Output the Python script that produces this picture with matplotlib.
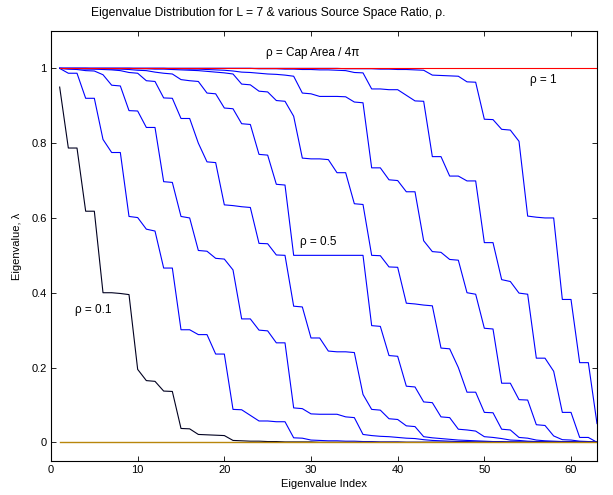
import matplotlib
matplotlib.use("Agg")
import matplotlib.pyplot as plt
import numpy as np

plt.rcParams['font.family'] = ['Liberation Sans', 'DejaVu Sans']

# eigenvalue index 1..63
index = np.arange(1, 64)

rho_00 = [0.0] * 63
rho_01 = [0.950, 0.787, 0.787, 0.618, 0.618, 0.400, 0.400, 0.398, 0.395, 0.195,
          0.165, 0.163, 0.137, 0.136, 0.037, 0.036, 0.021, 0.020, 0.019, 0.018,
          0.005, 0.004, 0.003, 0.003, 0.002, 0.002, 0.001, 0.001, 0.001, 0.001] + [0.0] * 33
rho_02 = [1.000, 0.987, 0.987, 0.920, 0.920, 0.810, 0.775, 0.775, 0.604, 0.601,
          0.570, 0.565, 0.466, 0.466, 0.301, 0.301, 0.288, 0.288, 0.236, 0.236,
          0.088, 0.087, 0.072, 0.057, 0.057, 0.055, 0.055, 0.012, 0.011, 0.006,
          0.005, 0.004, 0.004, 0.003, 0.003, 0.002, 0.002, 0.001, 0.001, 0.001] + [0.0] * 23
rho_03 = [1.000, 0.998, 0.997, 0.994, 0.993, 0.983, 0.955, 0.953, 0.887, 0.886,
          0.842, 0.842, 0.697, 0.695, 0.604, 0.600, 0.513, 0.511, 0.492, 0.490,
          0.461, 0.330, 0.330, 0.300, 0.298, 0.266, 0.266, 0.092, 0.090, 0.076,
          0.075, 0.075, 0.075, 0.068, 0.066, 0.021, 0.018, 0.016, 0.015, 0.013,
          0.011, 0.010, 0.007, 0.005, 0.004, 0.003, 0.002, 0.002, 0.001, 0.001] + [0.0] * 13
rho_04 = [1.000, 0.999, 0.999, 0.998, 0.998, 0.997, 0.996, 0.994, 0.989, 0.987,
          0.967, 0.965, 0.921, 0.920, 0.866, 0.866, 0.800, 0.750, 0.748, 0.635,
          0.633, 0.630, 0.628, 0.532, 0.531, 0.501, 0.500, 0.364, 0.362, 0.279,
          0.279, 0.244, 0.242, 0.242, 0.240, 0.128, 0.088, 0.086, 0.063, 0.061,
          0.044, 0.042, 0.015, 0.012, 0.010, 0.008, 0.006, 0.005, 0.004, 0.003,
          0.002, 0.002, 0.001, 0.001] + [0.0] * 9
rho_05 = [1.000, 1.000, 1.000, 1.000, 0.999, 0.999, 0.998, 0.998, 0.997, 0.995,
          0.994, 0.990, 0.987, 0.985, 0.970, 0.967, 0.965, 0.934, 0.932, 0.894,
          0.892, 0.852, 0.850, 0.770, 0.768, 0.690, 0.688, 0.500, 0.500, 0.500,
          0.500, 0.500, 0.500, 0.500, 0.500, 0.500, 0.312, 0.310, 0.232, 0.230,
          0.150, 0.148, 0.108, 0.106, 0.068, 0.066, 0.035, 0.033, 0.030, 0.015,
          0.013, 0.010, 0.006, 0.005, 0.003, 0.002, 0.002, 0.001, 0.001, 0.000,
          0.000, 0.000, 0.000]
rho_06 = [1.000, 1.000, 1.000, 1.000, 1.000, 1.000, 1.000, 1.000, 1.000, 0.999,
          0.999, 0.998, 0.998, 0.997, 0.996, 0.995, 0.994, 0.992, 0.990, 0.988,
          0.985, 0.958, 0.956, 0.939, 0.937, 0.914, 0.912, 0.872, 0.760, 0.758,
          0.758, 0.756, 0.721, 0.721, 0.638, 0.636, 0.500, 0.499, 0.469, 0.468,
          0.372, 0.370, 0.367, 0.365, 0.252, 0.250, 0.200, 0.134, 0.134, 0.080,
          0.079, 0.035, 0.033, 0.013, 0.011, 0.006, 0.004, 0.003, 0.002, 0.002,
          0.001, 0.001, 0.000]
rho_07 = [1.000] * 13 + [
          0.999, 0.999, 0.998, 0.998, 0.997, 0.996, 0.995,
          0.993, 0.990, 0.989, 0.987, 0.985, 0.984, 0.982, 0.979, 0.934, 0.932,
          0.925, 0.925, 0.925, 0.924, 0.910, 0.908, 0.734, 0.734, 0.702, 0.700,
          0.670, 0.670, 0.539, 0.510, 0.508, 0.489, 0.487, 0.400, 0.396, 0.305,
          0.303, 0.158, 0.158, 0.114, 0.113, 0.047, 0.045, 0.017, 0.007, 0.006,
          0.003, 0.002, 0.000]
rho_08 = [1.000] * 23 + [
          0.999, 0.999, 0.999, 0.998, 0.998, 0.997, 0.997,
          0.996, 0.996, 0.995, 0.994, 0.989, 0.988, 0.945, 0.945, 0.943, 0.943,
          0.928, 0.913, 0.912, 0.764, 0.764, 0.712, 0.712, 0.699, 0.699, 0.534,
          0.534, 0.435, 0.430, 0.399, 0.396, 0.225, 0.225, 0.190, 0.080, 0.080,
          0.013, 0.013, 0.000]
rho_09 = [1.000] * 33 + [
          0.999, 0.999, 0.999, 0.999, 0.998, 0.998, 0.997,
          0.997, 0.996, 0.995, 0.982, 0.981, 0.980, 0.979, 0.964, 0.963, 0.864,
          0.863, 0.837, 0.835, 0.805, 0.605, 0.602, 0.600, 0.600, 0.382, 0.382,
          0.213, 0.213, 0.050]
rho_10 = [1.0] * 63

blue_curves = [rho_02, rho_03, rho_04, rho_05, rho_06, rho_07, rho_08, rho_09]

fig = plt.figure(figsize=(6.13, 4.95), dpi=100)
ax = fig.add_axes([0.0832, 0.0687, 0.8907, 0.8687])

for curve in blue_curves:
    ax.plot(index, curve, color='#0000ff', lw=0.8)
ax.plot(index, rho_01, color='#000020', lw=0.8)
ax.plot(index, rho_10, color='#ff0000', lw=0.8)
ax.plot(index, rho_00, color='#b8860b', lw=1.0)

ax.set_xlim(0, 63)
ax.set_ylim(-0.05, 1.1)
ax.set_xticks([0, 10, 20, 30, 40, 50, 60])
ax.set_yticks([0, 0.2, 0.4, 0.6, 0.8, 1.0])
ax.set_yticklabels(['0', '0.2', '0.4', '0.6', '0.8', '1'])
ax.tick_params(direction='in', top=True, right=True, length=3.5, width=0.6,
               labelsize=8, pad=3)
for sp in ax.spines.values():
    sp.set_linewidth(0.8)

ax.set_xlabel('Eigenvalue Index', fontsize=8, labelpad=2.5)
ax.set_ylabel('Eigenvalue, \u03bb', fontsize=8, labelpad=7)
fig.text(0.148, 0.974, 'Eigenvalue Distribution for L = 7 & various Source Space Ratio, \u03c1.',
         fontsize=8.7, ha='left', va='center')

ax.text(24.8, 1.04, '\u03c1 = Cap Area / 4\u03c0', fontsize=8.5, ha='left', va='center')
ax.text(55.3, 0.968, '\u03c1 = 1', fontsize=8.5, ha='left', va='center')
ax.text(28.7, 0.535, '\u03c1 = 0.5', fontsize=8.5, ha='left', va='center')
ax.text(2.8, 0.355, '\u03c1 = 0.1', fontsize=8.5, ha='left', va='center')

fig.savefig('out.png', dpi=100)
